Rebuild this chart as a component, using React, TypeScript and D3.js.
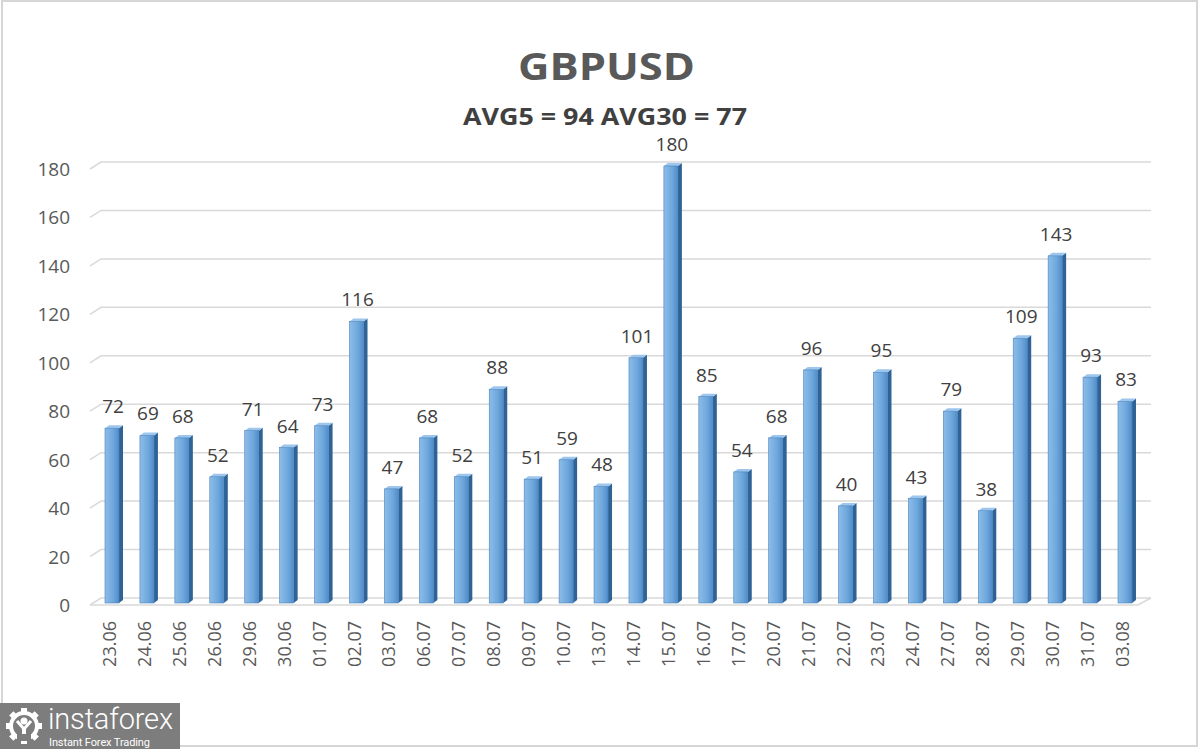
import * as d3 from 'd3';
import React, { useRef, useEffect } from 'react';

const dates = [
  '23.06', '24.06', '25.06', '26.06', '29.06', '30.06', '01.07', '02.07', '03.07', '06.07',
  '07.07', '08.07', '09.07', '10.07', '13.07', '14.07', '15.07', '16.07', '17.07', '20.07',
  '21.07', '22.07', '23.07', '24.07', '27.07', '28.07', '29.07', '30.07', '31.07', '03.08',
];
const values = [
  72, 69, 68, 52, 71, 64, 73, 116, 47, 68,
  52, 88, 51, 59, 48, 101, 180, 85, 54, 68,
  96, 40, 95, 43, 79, 38, 109, 143, 93, 83,
];
const yTicks = [0, 20, 40, 60, 80, 100, 120, 140, 160, 180];
const title = 'GBPUSD';
const subtitle = 'AVG5 = 94 AVG30 = 77';

const App: React.FC = () => {
  const svgRef = useRef<SVGSVGElement | null>(null);

  useEffect(() => {
    const width = 1200;
    const height = 749;
    const svg = d3.select(svgRef.current).attr('width', width).attr('height', height);
    svg.selectAll('*').remove();

    // 3d depth of the plot: back wall sits up and to the right of the front plane
    const dx = 11;
    const dy = -7;

    const defs = svg.append('defs');
    const grad = defs.append('linearGradient').attr('id', 'barFront')
      .attr('x1', '0').attr('x2', '1').attr('y1', '0').attr('y2', '0');
    grad.append('stop').attr('offset', '0%').attr('stop-color', '#8cbde9');
    grad.append('stop').attr('offset', '60%').attr('stop-color', '#6ea7dc');
    grad.append('stop').attr('offset', '100%').attr('stop-color', '#4f8cc9');

    svg.append('rect').attr('width', width).attr('height', height).attr('fill', '#ffffff');
    svg.append('rect')
      .attr('x', 2).attr('y', 1).attr('width', 1195).attr('height', 745)
      .attr('fill', 'none').attr('stroke', '#d6d6d6').attr('stroke-width', 2);

    const x = d3.scalePoint<string>().domain(dates).range([112, 1125]);
    // front plane scale (labels, floor edge)
    const yFront = d3.scaleLinear().domain([0, 180]).range([605, 169]);
    // bars sit a little behind the front plane
    const yBar = d3.scaleLinear().domain([0, 180]).range([603, 166]);

    const left = 90;
    const right = 1140;

    // gridlines on the back wall with the diagonal return on the left side
    const grid = svg.append('g');
    yTicks.forEach(t => {
      const yf = yFront(t);
      grid.append('path')
        .attr('d', `M${left},${yf} L${left + dx},${yf + dy} L${right + dx},${yf + dy}`)
        .attr('fill', 'none')
        .attr('stroke', '#d9d9d9')
        .attr('stroke-width', 1.5);
    });
    // floor front edge
    grid.append('path')
      .attr('d', `M${left},${yFront(0)} L${right - 2},${yFront(0)} L${right + dx},${yFront(0) + dy}`)
      .attr('fill', 'none')
      .attr('stroke', '#d9d9d9')
      .attr('stroke-width', 1.5);

    // y tick labels
    svg.append('g').selectAll('text')
      .data(yTicks)
      .enter()
      .append('text')
      .attr('x', 70)
      .attr('y', d => yFront(d))
      .attr('text-anchor', 'end')
      .attr('dominant-baseline', 'central')
      .attr('font-family', 'Open Sans, sans-serif')
      .attr('font-size', 19)
      .attr('fill', '#595959')
      .text(d => d);

    // bars
    const bw = 14;
    const depth = 4;
    const lift = 3;
    const bars = svg.append('g').selectAll('g')
      .data(values)
      .enter()
      .append('g');

    bars.append('path')
      .attr('d', (d, i) => {
        const cx = x(dates[i])!;
        const x1 = cx - bw / 2 + bw;
        const top = yBar(d);
        const base = yBar(0);
        return `M${x1},${top} L${x1 + depth},${top - lift} L${x1 + depth},${base - lift} L${x1},${base} Z`;
      })
      .attr('fill', '#2f6396');

    bars.append('path')
      .attr('d', (d, i) => {
        const x0 = x(dates[i])! - bw / 2;
        const top = yBar(d);
        return `M${x0},${top} L${x0 + depth},${top - lift} L${x0 + bw + depth},${top - lift} L${x0 + bw},${top} Z`;
      })
      .attr('fill', '#9cc6ee');

    bars.append('rect')
      .attr('x', (d, i) => x(dates[i])! - bw / 2)
      .attr('y', d => yBar(d))
      .attr('width', bw)
      .attr('height', d => yBar(0) - yBar(d))
      .attr('fill', 'url(#barFront)')
      .attr('stroke', '#4a82bb')
      .attr('stroke-width', 0.6);

    // value labels
    svg.append('g').selectAll('text')
      .data(values)
      .enter()
      .append('text')
      .attr('x', (d, i) => x(dates[i])! + 1)
      .attr('y', d => yBar(d) - 15)
      .attr('text-anchor', 'middle')
      .attr('font-family', 'Open Sans, sans-serif')
      .attr('font-size', 19)
      .attr('fill', '#404040')
      .text(d => d);

    // date labels
    svg.append('g').selectAll('text')
      .data(dates)
      .enter()
      .append('text')
      .attr('transform', d => `translate(${x(d)! - 3},621) rotate(-90)`)
      .attr('text-anchor', 'end')
      .attr('dominant-baseline', 'central')
      .attr('font-family', 'Open Sans, sans-serif')
      .attr('font-size', 18)
      .attr('fill', '#595959')
      .text(d => d);

    // titles
    svg.append('text')
      .attr('x', 518).attr('y', 80)
      .attr('font-family', 'Open Sans, sans-serif')
      .attr('font-weight', 'bold')
      .attr('font-size', 37)
      .attr('textLength', 177)
      .attr('lengthAdjust', 'spacingAndGlyphs')
      .attr('fill', '#595959')
      .text(title);
    svg.append('text')
      .attr('x', 463).attr('y', 125)
      .attr('font-family', 'Open Sans, sans-serif')
      .attr('font-weight', 'bold')
      .attr('font-size', 24)
      .attr('textLength', 284)
      .attr('lengthAdjust', 'spacingAndGlyphs')
      .attr('fill', '#404040')
      .text(subtitle);

    // watermark logo
    const logo = svg.append('g');
    logo.append('rect').attr('x', 0).attr('y', 703).attr('width', 180).attr('height', 46).attr('fill', '#7d7d7d');
    const gear = logo.append('g').attr('transform', 'translate(24,726)');
    d3.range(8).forEach(k => {
      gear.append('rect')
        .attr('x', -3).attr('y', -18).attr('width', 6).attr('height', 7)
        .attr('fill', '#ffffff')
        .attr('transform', `rotate(${k * 45})`);
    });
    gear.append('circle').attr('r', 13).attr('fill', 'none').attr('stroke', '#ffffff').attr('stroke-width', 4);
    gear.append('circle').attr('cy', -5).attr('r', 3.5).attr('fill', '#ffffff');
    gear.append('path').attr('d', 'M-7,-5 L0,3 L7,-5').attr('fill', 'none').attr('stroke', '#ffffff').attr('stroke-width', 3);
    gear.append('rect').attr('x', -2).attr('y', 2).attr('width', 4).attr('height', 12).attr('fill', '#ffffff');
    gear.append('rect').attr('x', -7).attr('y', 8).attr('width', 14).attr('height', 7).attr('fill', '#7d7d7d');
    logo.append('text')
      .attr('x', 48).attr('y', 729)
      .attr('font-family', 'Roboto, sans-serif')
      .attr('font-weight', 300)
      .attr('font-size', 29)
      .attr('textLength', 125)
      .attr('fill', '#ffffff')
      .text('instaforex');
    logo.append('text')
      .attr('x', 49).attr('y', 746)
      .attr('font-family', 'Roboto, sans-serif')
      .attr('font-size', 11)
      .attr('textLength', 101)
      .attr('fill', '#ffffff')
      .text('Instant Forex Trading');
  }, []);

  return <svg ref={svgRef} style={{ position: 'absolute', left: 0, top: 0, display: 'block' }}></svg>;
};

export default App;
